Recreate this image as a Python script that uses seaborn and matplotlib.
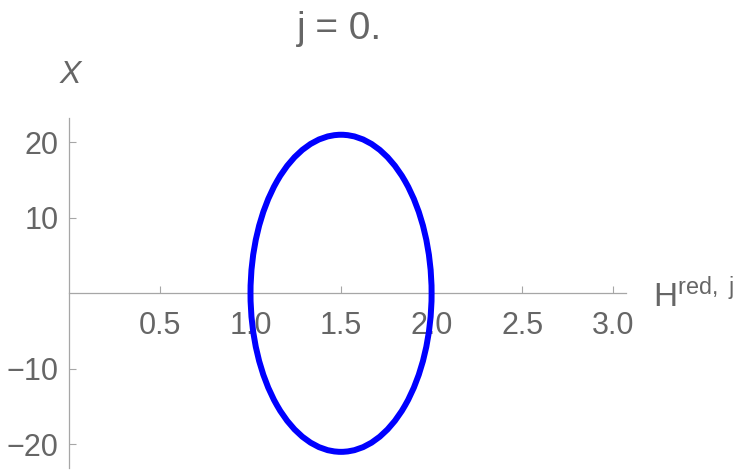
import matplotlib
matplotlib.use("Agg")
import matplotlib.pyplot as plt
import seaborn as sns
from matplotlib.patches import Ellipse
from matplotlib.ticker import MultipleLocator

# values
h_extent = [1.0, 2.0]        # H^{red,j} where the curve meets the axis
x_extent = [-21.0, 21.0]     # bottom and top of the curve
x_ticks = [0.5, 1.0, 1.5, 2.0, 2.5, 3.0]
y_ticks = [-20, -10, 10, 20]
title_text = "j = 0."

sns.set_theme(style="white")
plt.rcParams['font.family'] = ['Liberation Sans', 'DejaVu Sans']
plt.rcParams['mathtext.fontset'] = 'custom'
plt.rcParams['mathtext.rm'] = 'Liberation Sans'
plt.rcParams['mathtext.it'] = 'Liberation Sans:italic'

text_col = '#666666'
axis_col = '#a6a6a6'

fig = plt.figure(figsize=(7.47, 4.72), dpi=100)
ax = fig.add_axes([69.4 / 747, 4 / 472, (626 - 69.4) / 747, (468 - 118) / 472])
ax.set_xlim(0, (626 - 69.4) / 181.1)
ax.set_ylim(-(468 - 293.3) / 7.55, (293.3 - 118) / 7.55)

# the curve
cx = (h_extent[0] + h_extent[1]) / 2
cy = (x_extent[0] + x_extent[1]) / 2
ell = Ellipse((cx, cy), width=h_extent[1] - h_extent[0], height=x_extent[1] - x_extent[0],
              fill=False, edgecolor='#0000ff', lw=4.3, zorder=10, clip_on=False)
ax.add_patch(ell)

# Mathematica-like axes through the origin
for s in ['top', 'right']:
    ax.spines[s].set_visible(False)
ax.spines['bottom'].set_position(('data', 0))
ax.spines['left'].set_position(('data', 0))
for s in ['bottom', 'left']:
    ax.spines[s].set_color(axis_col)
    ax.spines[s].set_linewidth(0.9)

ax.set_xticks(x_ticks)
ax.set_yticks(y_ticks)
ax.xaxis.set_minor_locator(MultipleLocator(0.1))
ax.yaxis.set_minor_locator(MultipleLocator(2))
ax.tick_params(axis='both', which='both', direction='in', color=axis_col, width=0.8,
               labelcolor=text_col, labelsize=22)
ax.tick_params(axis='both', which='major', length=5)
ax.tick_params(axis='x', which='minor', length=3.5)
ax.tick_params(axis='y', which='minor', length=3)
ax.tick_params(axis='x', which='major', pad=13, bottom=True)
ax.tick_params(axis='y', which='major', pad=8, left=True)
ax.grid(False)

fig.text(339 / 747, 1 - 39.3 / 472, title_text, ha='center', va='baseline',
         fontsize=28, color=text_col)
fig.text(653 / 747, 1 - 307 / 472, r"$\mathrm{H}^{\mathrm{red,\ j}}$", ha='left',
         va='baseline', fontsize=24, color=text_col)
fig.text(70 / 747, 1 - 83 / 472, "X", ha='center', va='baseline', fontsize=23,
         style='italic', color=text_col)

fig.savefig("out.png", dpi=100)
